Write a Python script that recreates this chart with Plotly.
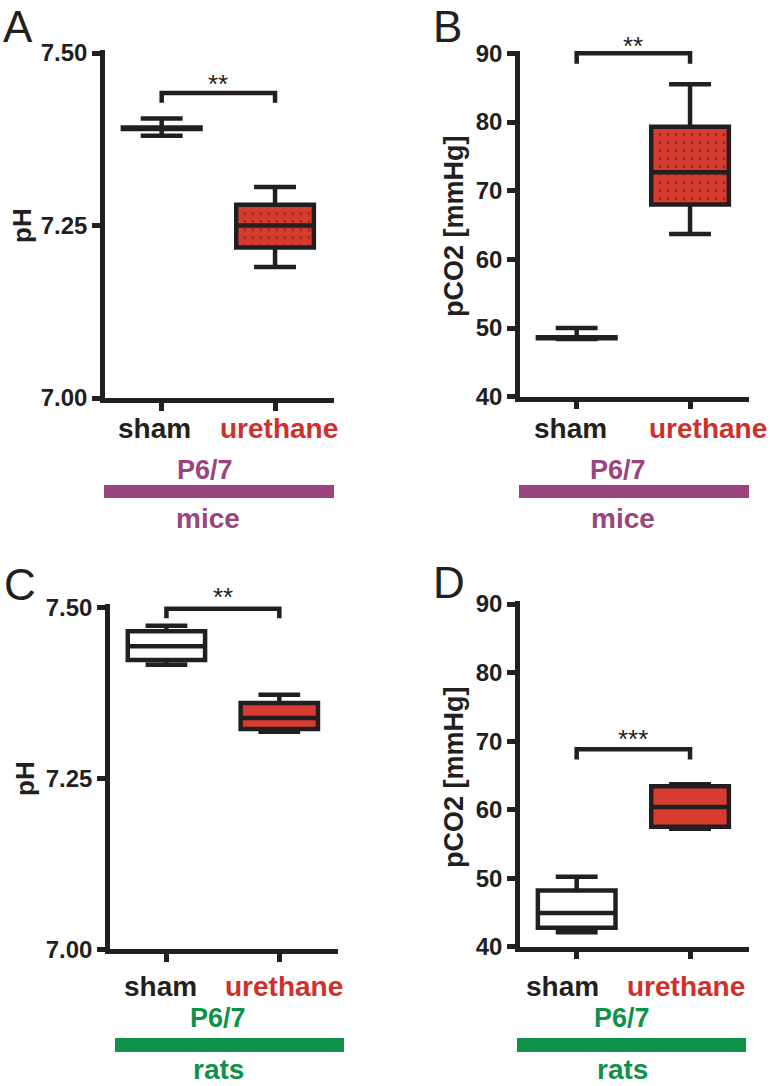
import plotly.graph_objects as go

# ---------------- data ----------------
categories = ["sham", "urethane"]
cat_colors = ["#231f20", "#cf302b"]

# box statistics per panel: [sham, urethane]
A_lower = [7.380, 7.190]
A_q1 = [7.390, 7.218]
A_med = [7.391, 7.250]
A_q3 = [7.392, 7.280]
A_upper = [7.405, 7.306]

B_lower = [48.4, 63.7]
B_q1 = [48.5, 68.0]
B_med = [48.6, 72.7]
B_q3 = [48.65, 79.3]
B_upper = [50.0, 85.5]

C_lower = [7.416, 7.318]
C_q1 = [7.423, 7.322]
C_med = [7.443, 7.338]
C_q3 = [7.465, 7.360]
C_upper = [7.473, 7.372]

D_lower = [42.1, 57.2]
D_q1 = [42.75, 57.5]
D_med = [44.9, 60.4]
D_q3 = [48.2, 63.4]
D_upper = [50.2, 63.7]

bracket_y = [7.442, 90.0, 7.498, 68.8]
bracket_drop = [0.014, 1.5, 0.014, 1.5]
star_text = ["**", "**", "**", "***"]

ph_ticks = [7.00, 7.25, 7.50]
ph_ticktext = ["7.00", "7.25", "7.50"]
pco2_ticks = [40, 50, 60, 70, 80, 90]
pco2_ticktext = ["40", "50", "60", "70", "80", "90"]

panel_letters = ["A", "B", "C", "D"]
y_titles = ["pH", "pCO2 [mmHg]", "pH", "pCO2 [mmHg]"]
age_label = "P6/7"
species = ["mice", "mice", "rats", "rats"]
species_colors = ["#9a457d", "#9a457d", "#10914a", "#10914a"]

# ---------------- styling ----------------
W, H = 774, 1086
DARK = "#231f20"
RED_FILL = "#d83b30"
FONT = "Liberation Sans"
LW = 4.5
BOX_W = 0.685
WHISK = 0.54
STAR_SHIFT = [9, 7, 12, 10]

def px(x):
    return x / W

def py(y):
    return 1 - y / H

# panel geometry (pixels): x-left, x-right, y-bottom, y-top(of domain)
panels = [
    dict(x0=105, x1=334, yb=398.0, yt=49.6, rng=[7.0, 7.505], ticks=ph_ticks, tt=ph_ticktext,
         stats=(A_lower, A_q1, A_med, A_q3, A_upper), sham_fill="rgba(255,255,255,0)", dots=True),
    dict(x0=520, x1=749, yb=396.7, yt=50.6, rng=[40, 90.4], ticks=pco2_ticks, tt=pco2_ticktext,
         stats=(B_lower, B_q1, B_med, B_q3, B_upper), sham_fill="rgba(255,255,255,0)", dots=True),
    dict(x0=110, x1=338, yb=949.3, yt=603.9, rng=[7.0, 7.505], ticks=ph_ticks, tt=ph_ticktext,
         stats=(C_lower, C_q1, C_med, C_q3, C_upper), sham_fill="white", dots=False),
    dict(x0=520, x1=749, yb=946.7, yt=601.3, rng=[40, 90.4], ticks=pco2_ticks, tt=pco2_ticktext,
         stats=(D_lower, D_q1, D_med, D_q3, D_upper), sham_fill="white", dots=False),
]

fig = go.Figure()
layout = dict(
    width=W, height=H, margin=dict(l=0, r=0, t=0, b=0, pad=0, autoexpand=False),
    paper_bgcolor="white", plot_bgcolor="white", showlegend=False,
    font=dict(family=FONT, color=DARK),
)
annotations = []
shapes = []

for i, p in enumerate(panels):
    n = i + 1
    xa = "x" if n == 1 else f"x{n}"
    ya = "y" if n == 1 else f"y{n}"
    xkey = "xaxis" if n == 1 else f"xaxis{n}"
    ykey = "yaxis" if n == 1 else f"yaxis{n}"
    lower, q1, med, q3, upper = p["stats"]
    for c in range(2):
        fig.add_trace(go.Box(
            x=[c], q1=[q1[c]], median=[med[c]], q3=[q3[c]],
            lowerfence=[lower[c]], upperfence=[upper[c]],
            width=BOX_W, whiskerwidth=WHISK, boxpoints=False,
            fillcolor=(p["sham_fill"] if c == 0 else RED_FILL),
            line=dict(color=DARK, width=LW),
            xaxis=xa, yaxis=ya, hoverinfo="skip",
        ))
    if p["dots"]:
        c = 1
        dx = BOX_W / 2 - 0.03
        dy = (p["rng"][1] - p["rng"][0]) * 0.006
        fig.add_trace(go.Scatter(
            x=[c - dx, c + dx, c + dx, c - dx, c - dx],
            y=[q1[c] + dy, q1[c] + dy, q3[c] - dy, q3[c] - dy, q1[c] + dy],
            mode="lines", line=dict(width=0), fill="toself",
            fillcolor="rgba(0,0,0,0)",
            fillpattern=dict(shape=".", fgcolor="#4a1511", bgcolor="rgba(0,0,0,0)",
                             size=8, solidity=0.1, fillmode="overlay"),
            xaxis=xa, yaxis=ya, hoverinfo="skip",
        ))
    layout[xkey] = dict(
        domain=[px(p["x0"]), px(p["x1"])], range=[-0.5, 1.52],
        showline=True, linecolor=DARK, linewidth=LW,
        tickmode="array", tickvals=[0, 1], ticktext=["", ""], showticklabels=False,
        ticks="outside", ticklen=8, tickwidth=LW, tickcolor=DARK,
        showgrid=False, zeroline=False, anchor=ya, fixedrange=True, automargin=False,
    )
    layout[ykey] = dict(
        domain=[py(p["yb"]), py(p["yt"])], range=p["rng"],
        showline=True, linecolor=DARK, linewidth=LW,
        tickmode="array", tickvals=p["ticks"], ticktext=p["tt"],
        ticks="outside", ticklen=8, tickwidth=LW, tickcolor=DARK,
        tickfont=dict(family=FONT, size=24, color=DARK, weight="bold"),
        showgrid=False, zeroline=False, anchor=xa, fixedrange=True, automargin=False,
    )
    # significance bracket
    by = bracket_y[i]
    bd = bracket_drop[i]
    shapes.append(dict(
        type="path", xref=xa, yref=ya,
        path=f"M 0,{by - bd} L 0,{by} L 1,{by} L 1,{by - bd}",
        line=dict(color=DARK, width=LW), layer="above",
    ))
    annotations.append(dict(
        x=0.5, y=by, xref=xa, yref=ya, text=star_text[i], showarrow=False,
        font=dict(family=FONT, size=26, color=DARK), xanchor="center", yanchor="middle",
        yshift=STAR_SHIFT[i],
    ))

# panel letters (top row anchored to the top edge so the text box stays inside)
letter_pos = [(18, 0, "top"), (448, 0, "top"), (20, 584, "middle"), (449, 582, "middle")]
for L, (lx, ly, anc) in zip(panel_letters, letter_pos):
    annotations.append(dict(x=px(lx), y=py(ly), xref="paper", yref="paper", text=L,
                            showarrow=False, xanchor="center", yanchor=anc,
                            font=dict(family=FONT, size=44, color=DARK)))

# y-axis titles
ytitle_pos = [(22, 226), (454, 226), (25, 778), (454, 777)]
ytitle_size = [26, 27, 26, 27]
for t, (tx, ty), s in zip(y_titles, ytitle_pos, ytitle_size):
    annotations.append(dict(x=px(tx), y=py(ty), xref="paper", yref="paper", text=t,
                            showarrow=False, textangle=-90, xanchor="center", yanchor="middle",
                            font=dict(family=FONT, size=s, color=DARK, weight="bold")))

# category labels, age labels, bars, species
label_layout = [
    dict(cat=[(154, 428), (279, 428)], age=(205, 470), bar=(104, 334, 485, 498), sp=(208, 518, "middle")),
    dict(cat=[(570, 428), (708, 428)], age=(618, 470), bar=(519, 749, 485, 498), sp=(623, 518, "middle")),
    dict(cat=[(160, 986), (284, 986)], age=(218, 1018), bar=(115, 344, 1038, 1052), sp=(218, 1086, "bottom")),
    dict(cat=[(562, 986), (686, 986)], age=(622, 1018), bar=(517, 746, 1038, 1052), sp=(622, 1086, "bottom")),
]
for i, ll in enumerate(label_layout):
    for c in range(2):
        cx, cy = ll["cat"][c]
        annotations.append(dict(x=px(cx), y=py(cy), xref="paper", yref="paper", text=categories[c],
                                showarrow=False, xanchor="center", yanchor="middle",
                                font=dict(family=FONT, size=28, color=cat_colors[c], weight="bold")))
    col = species_colors[i]
    ax_, ay_ = ll["age"]
    annotations.append(dict(x=px(ax_), y=py(ay_), xref="paper", yref="paper", text=age_label,
                            showarrow=False, xanchor="center", yanchor="middle",
                            font=dict(family=FONT, size=27, color=col, weight="bold")))
    bx0, bx1, by0, by1 = ll["bar"]
    shapes.append(dict(type="rect", xref="paper", yref="paper", x0=px(bx0), x1=px(bx1),
                       y0=py(by1), y1=py(by0), fillcolor=col, line=dict(width=0)))
    sx, sy, sanc = ll["sp"]
    annotations.append(dict(x=px(sx), y=py(sy), xref="paper", yref="paper", text=species[i],
                            showarrow=False, xanchor="center", yanchor=sanc, borderpad=0,
                            font=dict(family=FONT, size=28, color=col, weight="bold")))

layout["annotations"] = annotations
layout["shapes"] = shapes
fig.update_layout(**layout)
fig.write_html(
    "out.html",
    config={"displayModeBar": False},
    post_script="document.body.style.margin='0';document.body.style.padding='0';"
                "document.documentElement.style.overflow='hidden';",
)
